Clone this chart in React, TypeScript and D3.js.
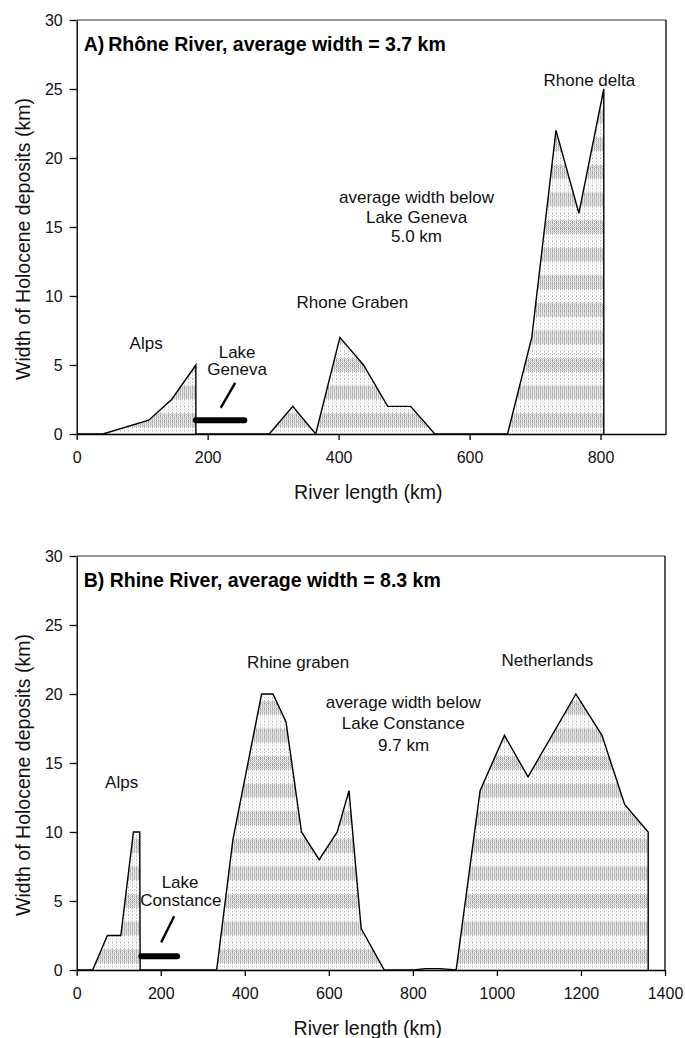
import React, { useEffect, useRef } from 'react';
import * as d3 from 'd3';

// Rhône (panel A)
const rhoneKm = [0, 40, 110, 145, 182, 182, 294, 330, 365, 402, 438, 475, 510, 547, 658, 695, 732, 767, 805, 805];
const rhoneWidth = [0, 0, 1, 2.5, 5, 0, 0, 2, 0, 7, 5, 2, 2, 0, 0, 7, 22, 16, 25, 0];
const rhoneLakeKm = [182, 256];
const rhoneTicksX = [0, 200, 400, 600, 800];

// Rhine (panel B)
const rhineKm = [0, 38, 73, 105, 135, 150, 151, 333, 372, 440, 467, 498, 535, 577, 620, 648, 677, 732, 801, 830, 865, 903, 960, 1018, 1074, 1188, 1250, 1304, 1360, 1360];
const rhineWidth = [0, 0, 2.5, 2.5, 10, 10, 0, 0, 9.5, 20, 20, 18, 10, 8, 10, 13, 3, 0, 0, 0.1, 0.1, 0, 13, 17, 14, 20, 17, 12, 10, 0];
const rhineLakeKm = [154, 239];
const rhineTicksX = [0, 200, 400, 600, 800, 1000, 1200, 1400];

const ticksY = [0, 5, 10, 15, 20, 25, 30];

const FONT = 'Liberation Sans, Arial, Helvetica, sans-serif';

const panels = [
  {
    top: 20, bottom: 434, left: 76.7, right: 666,
    xMax: 900,
    km: rhoneKm, width: rhoneWidth, lake: rhoneLakeKm, ticksX: rhoneTicksX,
    title: 'A)\u2009Rhône River, average width = 3.7 km',
    slash: [[220, 1.9], [242, 3.7]],
    labels: [
      { text: 'Alps', x: 106, y: 6.6 },
      { text: 'Lake', x: 245, y: 5.96 },
      { text: 'Geneva', x: 245, y: 4.7 },
      { text: 'Rhone Graben', x: 421, y: 9.57 },
      { text: 'average width below', x: 519, y: 17.17 },
      { text: 'Lake Geneva', x: 519, y: 15.75 },
      { text: '5.0 km', x: 519, y: 14.37 },
      { text: 'Rhone delta', x: 783, y: 25.65 },
    ],
  },
  {
    top: 556, bottom: 970, left: 76.7, right: 665,
    xMax: 1400,
    km: rhineKm, width: rhineWidth, lake: rhineLakeKm, ticksX: rhineTicksX,
    title: 'B) Rhine River, average width = 8.3 km',
    slash: [[201, 2], [232, 3.9]],
    labels: [
      { text: 'Alps', x: 107, y: 13.65 },
      { text: 'Lake', x: 246, y: 6.36 },
      { text: 'Constance', x: 248, y: 5.07 },
      { text: 'Rhine graben', x: 527, y: 22.3 },
      { text: 'average width below', x: 777, y: 19.44 },
      { text: 'Lake Constance', x: 777, y: 17.88 },
      { text: '9.7 km', x: 778, y: 16.3 },
      { text: 'Netherlands', x: 1120, y: 22.46 },
    ],
  },
];

function App() {
  const ref = useRef<SVGSVGElement>(null);

  useEffect(() => {
    const svg = d3.select(ref.current);
    svg.selectAll('*').remove();

    const defs = svg.append('defs');
    // stipple textures
    const dense = defs.append('pattern').attr('id', 'dense')
      .attr('patternUnits', 'userSpaceOnUse').attr('width', 2).attr('height', 2);
    dense.append('rect').attr('width', 1).attr('height', 1).attr('fill', '#9a9a9a');
    dense.append('rect').attr('x', 1).attr('y', 1).attr('width', 1).attr('height', 1).attr('fill', '#bcbcbc');
    const sparse = defs.append('pattern').attr('id', 'sparse')
      .attr('patternUnits', 'userSpaceOnUse').attr('width', 4).attr('height', 3);
    sparse.append('rect').attr('width', 1).attr('height', 1).attr('fill', '#a6a6a6');
    sparse.append('rect').attr('x', 2).attr('y', 2).attr('width', 1).attr('height', 1).attr('fill', '#cccccc');

    panels.forEach((p, i) => {
      const x = d3.scaleLinear().domain([0, p.xMax]).range([p.left, p.right]);
      const y = d3.scaleLinear().domain([0, 30]).range([p.bottom, p.top]);
      const band = y(0) - y(2);

      const bands = defs.append('pattern').attr('id', `bands${i}`)
        .attr('patternUnits', 'userSpaceOnUse')
        .attr('x', 0).attr('y', y(0))
        .attr('width', 8).attr('height', band);
      bands.append('rect').attr('width', 8).attr('height', band).attr('fill', 'url(#sparse)');
      bands.append('rect').attr('y', band * 0.25).attr('width', 8).attr('height', band * 0.5).attr('fill', 'url(#dense)');

      const g = svg.append('g');

      const pts: [number, number][] = p.km.map((k, j) => [k, p.width[j]]);
      const area = d3.area<[number, number]>()
        .x(d => x(d[0])).y0(y(0)).y1(d => y(d[1]));
      const line = d3.line<[number, number]>()
        .x(d => x(d[0])).y(d => y(d[1]));

      g.append('path').datum(pts).attr('fill', `url(#bands${i})`).attr('d', area);
      g.append('path').datum(pts).attr('fill', 'none').attr('stroke', '#000')
        .attr('stroke-width', 1.4).attr('stroke-linejoin', 'miter').attr('d', line);

      // frame (top + right)
      g.append('line').attr('x1', p.left).attr('x2', p.right).attr('y1', p.top).attr('y2', p.top)
        .attr('stroke', '#333').attr('stroke-width', 1.1);
      g.append('line').attr('x1', p.right).attr('x2', p.right).attr('y1', p.top).attr('y2', p.bottom)
        .attr('stroke', '#000').attr('stroke-width', 1.3);

      const xAxis = g.append('g').attr('transform', `translate(0,${p.bottom})`)
        .call(d3.axisBottom(x).tickValues(p.ticksX).tickFormat(d3.format('d'))
          .tickSize(6).tickPadding(12).tickSizeOuter(0));
      const yAxis = g.append('g').attr('transform', `translate(${p.left},0)`)
        .call(d3.axisLeft(y).tickValues(ticksY).tickSize(7).tickPadding(7).tickSizeOuter(0));
      [xAxis, yAxis].forEach(a => {
        a.selectAll('path').attr('stroke', '#000').attr('stroke-width', 1.4);
        a.selectAll('line').attr('stroke', '#000').attr('stroke-width', 1.3);
        a.selectAll('text').attr('font-family', FONT).attr('font-size', 16).attr('fill', '#111');
      });

      // lake bar and pointer
      g.append('line')
        .attr('x1', x(p.lake[0])).attr('x2', x(p.lake[1]))
        .attr('y1', y(1)).attr('y2', y(1))
        .attr('stroke', '#000').attr('stroke-width', 6).attr('stroke-linecap', 'round');
      g.append('line')
        .attr('x1', x(p.slash[0][0])).attr('y1', y(p.slash[0][1]))
        .attr('x2', x(p.slash[1][0])).attr('y2', y(p.slash[1][1]))
        .attr('stroke', '#000').attr('stroke-width', 2.4);

      g.selectAll('text.lbl').data(p.labels).join('text')
        .attr('class', 'lbl')
        .attr('x', d => x(d.x)).attr('y', d => y(d.y)).attr('dy', '0.35em')
        .attr('text-anchor', 'middle')
        .attr('font-family', FONT).attr('font-size', 17).attr('fill', '#111')
        .text(d => d.text);

      g.append('text').attr('x', p.left + 7).attr('y', p.top + 24)
        .attr('dy', '0.35em')
        .attr('font-family', FONT).attr('font-size', 19.5).attr('font-weight', 'bold').attr('fill', '#000')
        .text(p.title);

      g.append('text')
        .attr('x', (p.left + p.right) / 2 - 3).attr('y', p.bottom + 58).attr('dy', '0.35em')
        .attr('text-anchor', 'middle')
        .attr('font-family', FONT).attr('font-size', 19.5).attr('fill', '#111')
        .text('River length (km)');

      g.append('text')
        .attr('transform', `translate(23,${(p.top + p.bottom) / 2 + 12}) rotate(-90)`)
        .attr('dy', '0.35em')
        .attr('text-anchor', 'middle')
        .attr('font-family', FONT).attr('font-size', 19.5).attr('fill', '#111')
        .text('Width of Holocene deposits (km)');
    });
  }, []);

  return (
    <svg ref={ref} width="685" height="1038"
      style={{ position: 'absolute', left: 0, top: 0, background: '#fff' }}></svg>
  );
}

export default App;
